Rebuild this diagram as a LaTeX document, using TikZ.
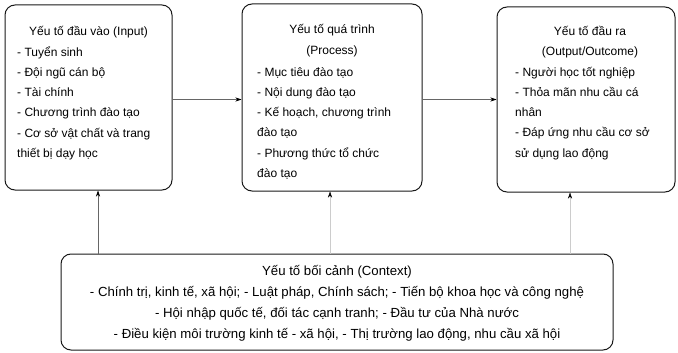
\documentclass[tikz,border=0pt]{standalone}
\usepackage{fontspec}
\setmainfont{Liberation Sans}
\usetikzlibrary{arrows.meta}
\begin{document}
\begin{tikzpicture}[x=1pt,y=-1pt,
  box/.style={draw=black!90, line width=1pt, rounded corners=10pt, inner sep=0pt},
  txt/.style={inner sep=0pt, font=\fontsize{12}{20.3}\selectfont, text=black},
  ctxt/.style={inner sep=0pt, font=\fontsize{13.2}{21}\selectfont, text=black},
  arr/.style={draw=black!60, line width=0.6pt, -{Stealth[length=6pt,width=4pt,black]}},
  farr/.style={draw=black!20, line width=0.4pt, -{Stealth[length=6pt,width=4pt,black]}}]
\useasboundingbox (0,0) rectangle (678,353);
% boxes
\node[box, minimum width=167pt, minimum height=185pt] (in) at (88.5,97.5) {};
\node[box, minimum width=180pt, minimum height=187pt] (pr) at (332,97.5) {};
\node[box, minimum width=178pt, minimum height=185pt] (out) at (586,99.5) {};
\node[box, minimum width=552pt, minimum height=96pt] (ctx) at (337,302) {};
% input texts
\node[txt, anchor=base] (inT) at (88.5,36) {Yếu tố đầu vào (Input)};
\node[txt, anchor=base west, align=left] (inL) at (17,157.5) {- Tuyển sinh\\- Đội ngũ cán bộ\\- Tài chính\\- Chương trình đào tạo\\- Cơ sở vật chất và trang\\thiết bị dạy học};
% process texts
\node[txt, anchor=base, align=center] (prT) at (332,54.3) {Yếu tố quá trình\\(Process)};
\node[txt, anchor=base west, align=left] (prL) at (257,177.5) {- Mục tiêu đào tạo\\- Nội dung đào tạo\\- Kế hoạch, chương trình\\đào tạo\\- Phương thức tổ chức\\đào tạo};
% output texts
\node[txt, anchor=base, align=center] (outT) at (590,55.5) {Yếu tố đầu ra\\(Output/Outcome)};
\node[txt, anchor=base west, align=left] (outL) at (515,157.2) {- Người học tốt nghiệp\\- Thỏa mãn nhu cầu cá\\nhân\\- Đáp ứng nhu cầu cơ sở\\sử dụng lao động};
% context texts
\node[ctxt, anchor=base, align=center] (ctxL) at (337,338.5) {Yếu tố bối cảnh (Context)\\- Chính trị, kinh tế, xã hội; - Luật pháp, Chính sách; - Tiến bộ khoa học và công nghệ\\- Hội nhập quốc tế, đối tác cạnh tranh; - Đầu tư của Nhà nước\\- Điều kiện môi trường kinh tế - xã hội, - Thị trường lao động, nhu cầu xã hội};
% connectors
\draw[arr] ([yshift=-2pt]in.east) -- ([yshift=-2pt]in.east -| pr.west);
\draw[arr] ([yshift=-2pt]pr.east) -- ([yshift=-2pt]pr.east -| out.west);
\draw[arr] ([xshift=9.5pt]in.south |- ctx.north) -- ([xshift=9.5pt]in.south);
\draw[farr] ([xshift=-2pt]pr.south |- ctx.north) -- ([xshift=-2pt]pr.south);
\draw[farr] ([xshift=-16pt]out.south |- ctx.north) -- ([xshift=-16pt]out.south);
\end{tikzpicture}
\end{document}
